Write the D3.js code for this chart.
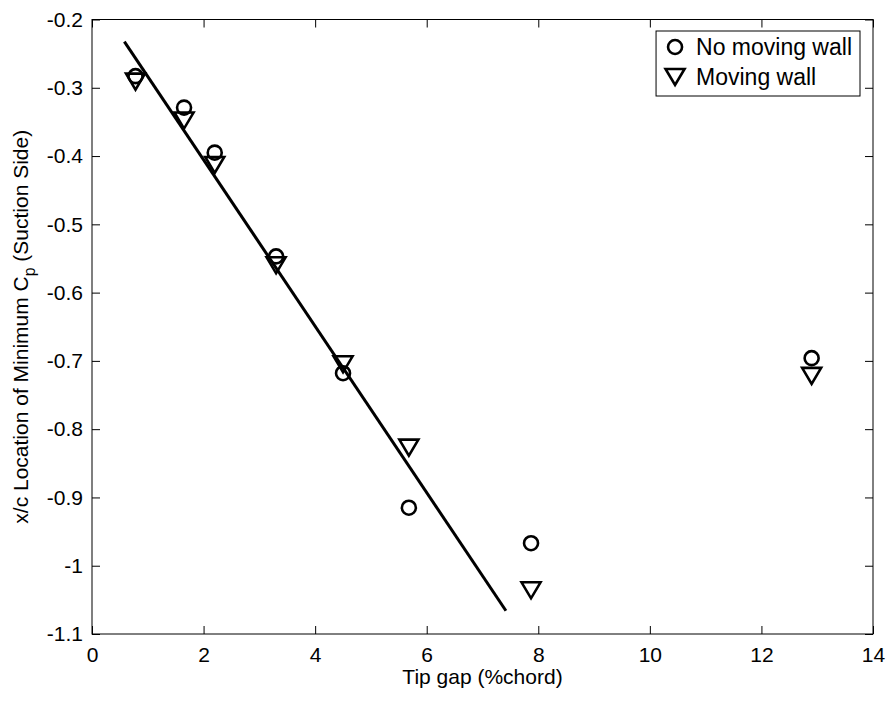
<!DOCTYPE html>
<html>
<head>
<meta charset="utf-8">
<script src="https://cdn.jsdelivr.net/npm/d3@7"></script>
<style>
  body { margin: 0; background: #fff; }
  svg { display: block; font-family: Arial, "Liberation Sans", sans-serif; }
</style>
</head>
<body>
<svg id="chart" width="890" height="702"></svg>
<script>
// Tip gap (% chord) for each case
const tipGap = [0.78, 1.65, 2.2, 3.3, 4.5, 5.68, 7.87, 12.9];
// x/c location of minimum Cp, without and with the moving wall
const noMovingWall = [-0.283, -0.329, -0.395, -0.547, -0.718, -0.915, -0.967, -0.696];
const movingWall = [-0.291, -0.348, -0.413, -0.560, -0.705, -0.827, -1.036, -0.722];
// Linear fit drawn through the small-gap cases
const fitX = [0.58, 7.42];
const fitY = [-0.2325, -1.066];

const xTicks = [0, 2, 4, 6, 8, 10, 12, 14];
const yTicks = [-0.2, -0.3, -0.4, -0.5, -0.6, -0.7, -0.8, -0.9, -1, -1.1];
const legendLabels = ["No moving wall", "Moving wall"];

const FS = 21, LEG_FS = 23;
const svg = d3.select("#chart");
const plotL = 92, plotR = 873, plotT = 19.5, plotB = 634;

const x = d3.scaleLinear().domain([0, 14]).range([plotL, plotR]);
const y = d3.scaleLinear().domain([-1.1, -0.2]).range([plotB, plotT]);

const tickLen = 8;
const fmt = d => String(d);

// Axes: labelled bottom/left, unlabelled top/right, all ticks pointing inward
svg.append("g").attr("transform", `translate(0,${plotB})`)
  .call(d3.axisBottom(x).tickValues(xTicks).tickSizeInner(-tickLen).tickSizeOuter(0).tickPadding(13).tickFormat(fmt));
svg.append("g").attr("transform", `translate(0,${plotT})`)
  .call(d3.axisTop(x).tickValues(xTicks).tickSizeInner(-tickLen).tickSizeOuter(0).tickFormat(""));
svg.append("g").attr("transform", `translate(${plotL},0)`)
  .call(d3.axisLeft(y).tickValues(yTicks).tickSizeInner(-tickLen).tickSizeOuter(0).tickPadding(9).tickFormat(fmt));
svg.append("g").attr("transform", `translate(${plotR},0)`)
  .call(d3.axisRight(y).tickValues(yTicks).tickSizeInner(-tickLen).tickSizeOuter(0).tickFormat(""));

svg.selectAll(".domain").remove();
svg.selectAll(".tick line").attr("stroke", "#000").attr("stroke-width", 1);
svg.selectAll(".tick text").attr("fill", "#000").attr("font-size", FS)
  .attr("font-family", "Arial, 'Liberation Sans', sans-serif");

// Plot frame
svg.append("rect")
  .attr("x", plotL).attr("y", plotT)
  .attr("width", plotR - plotL).attr("height", plotB - plotT)
  .attr("fill", "none").attr("stroke", "#000").attr("stroke-width", 1);

// Fit line
svg.append("line")
  .attr("x1", x(fitX[0])).attr("y1", y(fitY[0]))
  .attr("x2", x(fitX[1])).attr("y2", y(fitY[1]))
  .attr("stroke", "#000").attr("stroke-width", 3);

const triPath = "M-9.5,-8L9.5,-8L0,8Z";

function circleMark(g, cx, cy) {
  g.append("circle").attr("cx", cx).attr("cy", cy).attr("r", 7)
    .attr("fill", "none").attr("stroke", "#000").attr("stroke-width", 2.6);
}
function triMark(g, cx, cy) {
  g.append("path").attr("d", triPath).attr("transform", `translate(${cx},${cy})`)
    .attr("fill", "none").attr("stroke", "#000").attr("stroke-width", 2.6)
    .attr("stroke-linejoin", "miter");
}

const marks = svg.append("g");
tipGap.forEach((g, i) => circleMark(marks, x(g), y(noMovingWall[i])));
tipGap.forEach((g, i) => triMark(marks, x(g), y(movingWall[i])));

// Legend: right-aligned box whose width follows the longest label
const lgRight = 860, lgTop = 31, lgBottom = 96, rowY = [47, 77];
const lg = svg.append("g");
const box = lg.append("rect").attr("y", lgTop).attr("height", lgBottom - lgTop)
  .attr("fill", "#fff").attr("stroke", "#000").attr("stroke-width", 1);
const texts = legendLabels.map((t, i) =>
  lg.append("text").attr("y", rowY[i]).attr("dy", "0.35em")
    .attr("font-size", LEG_FS).attr("fill", "#000").text(t));
const maxW = d3.max(texts, t => t.node().getComputedTextLength());
const textX = lgRight - 8 - maxW;
texts.forEach(t => t.attr("x", textX));
box.attr("x", textX - 40).attr("width", lgRight - (textX - 40));
circleMark(lg, textX - 21, rowY[0]);
triMark(lg, textX - 21, rowY[1]);

// Axis titles
svg.append("text").attr("x", (plotL + plotR) / 2).attr("y", 684)
  .attr("text-anchor", "middle").attr("font-size", FS).text("Tip gap (%chord)");

const yl = svg.append("text")
  .attr("transform", `translate(28,${(plotT + plotB) / 2}) rotate(-90)`)
  .attr("text-anchor", "middle").attr("font-size", FS);
yl.append("tspan").text("x/c Location of Minimum C");
yl.append("tspan").attr("font-size", FS * 0.75).attr("dy", 7).text("p");
yl.append("tspan").attr("dy", -7).text(" (Suction Side)");
</script>
</body>
</html>
